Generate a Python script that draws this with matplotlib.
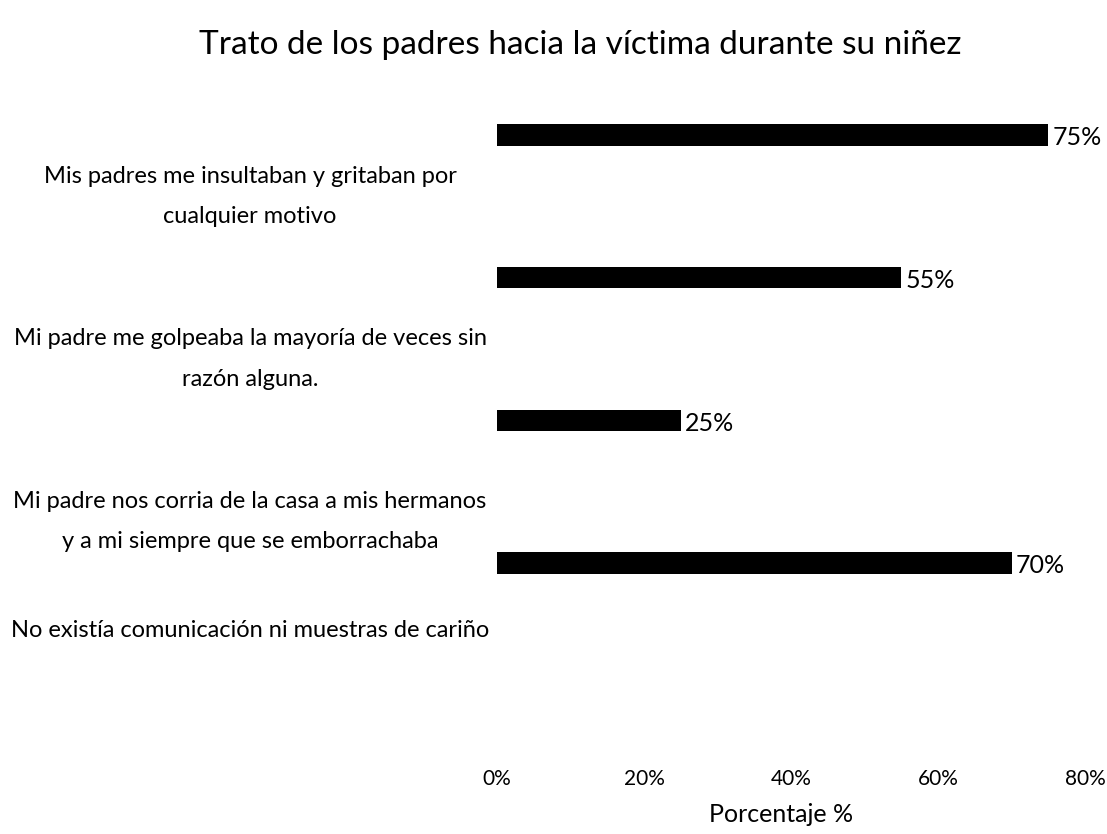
import matplotlib
matplotlib.use("Agg")
import matplotlib.pyplot as plt
from matplotlib.ticker import FuncFormatter
from matplotlib.transforms import blended_transform_factory

categories = [
    "Mis padres me insultaban y gritaban por\ncualquier motivo",
    "Mi padre me golpeaba la mayoría de veces sin\nrazón alguna.",
    "Mi padre nos corria de la casa a mis hermanos\ny a mi siempre que se emborrachaba",
    "No existía comunicación ni muestras de cariño",
]
values = [75, 55, 25, 70]
xticks = [0, 20, 40, 60, 80]
title = "Trato de los padres hacia la víctima durante su niñez"
xlabel = "Porcentaje %"

FONT = ["Lato", "DejaVu Sans"]
plt.rcParams["font.family"] = FONT

W, H = 1107, 834
fig = plt.figure(figsize=(W / 100, H / 100), dpi=100)
ax_left, ax_right = 497 / W, 1085 / W
ax_top_px, ax_bot_px = 100, 755
ax = fig.add_axes([ax_left, 1 - ax_bot_px / H, ax_right - ax_left, (ax_bot_px - ax_top_px) / H])

pos = list(range(len(values)))
ax.barh(pos, values, height=0.15, color="black")
ax.set_xlim(0, 80)
px_per_unit = (563 - 135) / 3
ax.set_ylim((ax_bot_px - 135) / px_per_unit, -(135 - ax_top_px) / px_per_unit)

for p, v in zip(pos, values):
    ax.text(v + 0.6, p + 0.02, f"{v}%", va="center", ha="left", fontsize=18, color="black")

# category labels (placed below each bar)
label_offsets = [0.43, 0.57, 0.71, 0.47]
trans = blended_transform_factory(fig.transFigure, ax.transData)
for p, c, off in zip(pos, categories, label_offsets):
    ax.text(250 / W, p + off, c, transform=trans,
            ha="center", va="center", fontsize=17, linespacing=2.15, multialignment="center")

ax.set_yticks([])
ax.set_xticks(xticks)
ax.xaxis.set_major_formatter(FuncFormatter(lambda x, _: f"{x:.0f}%"))
ax.tick_params(axis="x", length=0, labelsize=15, pad=10)
for s in ax.spines.values():
    s.set_visible(False)

fig.text(781 / W, 1 - 815 / H, xlabel, ha="center", va="center", fontsize=18)
fig.text(580 / W, 1 - 45 / H, title, ha="center", va="center", fontsize=24)

fig.savefig("out.png", dpi=100)
